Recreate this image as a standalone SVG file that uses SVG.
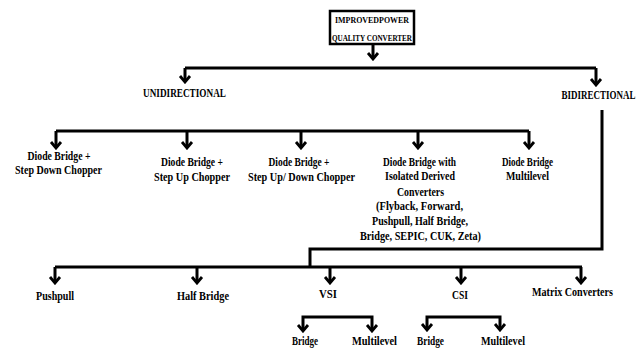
<svg xmlns="http://www.w3.org/2000/svg" width="642" height="349" viewBox="0 0 642 349">
<style>
text{font-family:"Liberation Serif","Times New Roman",serif;font-weight:bold;fill:#000;text-anchor:middle}
.t{font-size:12.5px}
.s{font-size:11.5px}
.h{font-size:9px}
.c{fill:none;stroke:#000;stroke-width:3}
.a{marker-end:url(#ah)}
</style>
<defs>
<marker id="ah" markerUnits="userSpaceOnUse" viewBox="-9 -7 11 14" refX="0" refY="0" markerWidth="11" markerHeight="14" orient="auto">
<path d="M-6,-5 L0,0 L-6,5" fill="none" stroke="#000" stroke-width="2.8"/>
</marker>
</defs>
<rect width="642" height="349" fill="#fff"/>
<g id="connectors">
<path class="c a" d="M373,44 V59"/>
<path class="c" d="M185,68 H596"/>
<path class="c a" d="M185,68 V82"/>
<path class="c a" d="M596,68 V85"/>
<path class="c" d="M56,131 H529"/>
<path class="c a" d="M56,131 V148"/>
<path class="c a" d="M187,131 V148"/>
<path class="c a" d="M301,131 V148"/>
<path class="c a" d="M418,131 V148"/>
<path class="c a" d="M529,131 V148"/>
<path class="c" d="M602,110 V249 H310 V267"/>
<path class="c" d="M55,267 H582"/>
<path class="c a" d="M55,267 V283"/>
<path class="c a" d="M197,267 V283"/>
<path class="c a" d="M330,267 V283"/>
<path class="c a" d="M461,267 V283"/>
<path class="c a" d="M581,267 V283"/>
<path class="c a" d="M338,317 H303 V331"/>
<path class="c a" d="M338,317 H372 V331"/>
<path class="c a" d="M464,317 H427 V330"/>
<path class="c a" d="M464,317 H500 V330"/>
</g>
<g id="root">
<rect x="330" y="11" width="84" height="33" fill="#fff" stroke="#000" stroke-width="2.5"/>
<text class="h" x="372" y="23" textLength="74" lengthAdjust="spacingAndGlyphs">IMPROVEDPOWER</text>
<text class="h" x="372" y="41" textLength="80" lengthAdjust="spacingAndGlyphs">QUALITY CONVERTER</text>
</g>
<g id="unidirectional"><text class="t" x="184.5" y="97" textLength="83" lengthAdjust="spacingAndGlyphs">UNIDIRECTIONAL</text></g>
<g id="bidirectional"><text class="t" transform="translate(598.5,99) scale(0.72,1)" x="0" y="0">BIDIRECTIONAL</text></g>
<g id="u1">
<text class="t" x="59" y="160" textLength="63" lengthAdjust="spacingAndGlyphs">Diode Bridge +</text>
<text class="t" x="58.5" y="174" textLength="87" lengthAdjust="spacingAndGlyphs">Step Down Chopper</text>
</g>
<g id="u2">
<text class="t" x="192" y="166" textLength="62" lengthAdjust="spacingAndGlyphs">Diode Bridge +</text>
<text class="t" x="192" y="181" textLength="76" lengthAdjust="spacingAndGlyphs">Step Up Chopper</text>
</g>
<g id="u3">
<text class="t" x="299" y="166" textLength="61" lengthAdjust="spacingAndGlyphs">Diode Bridge +</text>
<text class="t" x="301.5" y="181" textLength="107" lengthAdjust="spacingAndGlyphs">Step Up/ Down Chopper</text>
</g>
<g id="u4">
<text class="t" x="419.5" y="166" textLength="73" lengthAdjust="spacingAndGlyphs">Diode Bridge with</text>
<text class="t" x="420" y="180" textLength="70" lengthAdjust="spacingAndGlyphs">Isolated Derived</text>
<text class="t" x="420.5" y="196" textLength="47" lengthAdjust="spacingAndGlyphs">Converters</text>
<text class="t" x="419.5" y="210" textLength="87" lengthAdjust="spacingAndGlyphs">(Flyback, Forward,</text>
<text class="t" x="420" y="225" textLength="96" lengthAdjust="spacingAndGlyphs">Pushpull, Half Bridge,</text>
<text class="t" x="420.5" y="240" textLength="121" lengthAdjust="spacingAndGlyphs">Bridge, SEPIC, CUK, Zeta)</text>
</g>
<g id="u5">
<text class="t" x="527.5" y="166" textLength="51" lengthAdjust="spacingAndGlyphs">Diode Bridge</text>
<text class="t" x="527.5" y="180" textLength="43" lengthAdjust="spacingAndGlyphs">Multilevel</text>
</g>
<g id="b1"><text class="t" x="55" y="300" textLength="38" lengthAdjust="spacingAndGlyphs">Pushpull</text></g>
<g id="b2"><text class="t" x="203" y="300" textLength="52" lengthAdjust="spacingAndGlyphs">Half Bridge</text></g>
<g id="b3"><text class="t" x="328" y="298" textLength="18" lengthAdjust="spacingAndGlyphs">VSI</text></g>
<g id="b4"><text class="t" x="460" y="299" textLength="16" lengthAdjust="spacingAndGlyphs">CSI</text></g>
<g id="b5"><text class="t" x="572.5" y="296" textLength="81" lengthAdjust="spacingAndGlyphs">Matrix Converters</text></g>
<g id="vsi-bridge"><text class="s" x="305" y="345" textLength="26" lengthAdjust="spacingAndGlyphs">Bridge</text></g>
<g id="vsi-multilevel"><text class="s" x="374.5" y="345" textLength="45" lengthAdjust="spacingAndGlyphs">Multilevel</text></g>
<g id="csi-bridge"><text class="s" x="430.5" y="345" textLength="27" lengthAdjust="spacingAndGlyphs">Bridge</text></g>
<g id="csi-multilevel"><text class="s" x="503" y="345" textLength="44" lengthAdjust="spacingAndGlyphs">Multilevel</text></g>
</svg>
